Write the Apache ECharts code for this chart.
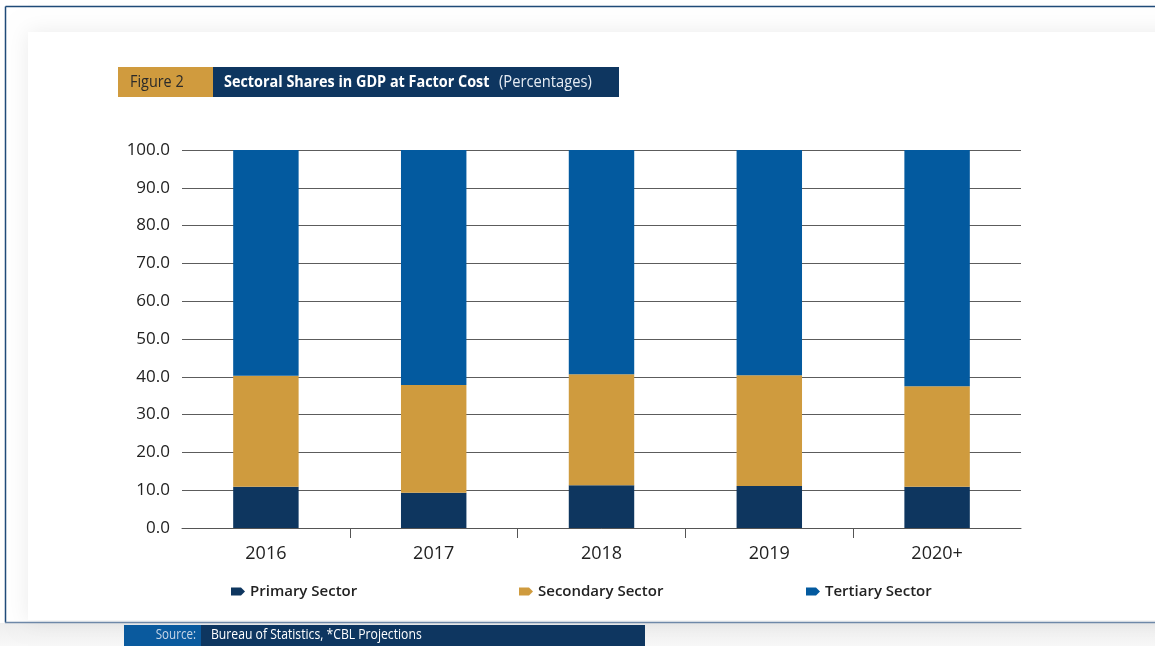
<!DOCTYPE html>
<html>
<head>
<meta charset="utf-8">
<script src="https://cdn.jsdelivr.net/npm/echarts@6/dist/echarts.min.js"></script>
<style>
  html, body { margin: 0; padding: 0; background: #ffffff; }
  #chart { width: 1155px; height: 646px; }
</style>
</head>
<body>
<div id="chart"></div>
<script>
// Sectoral shares in GDP at factor cost, percent of total
const categories = ['2016', '2017', '2018', '2019', '2020+'];
const primarySector = [10.9, 9.3, 11.3, 11.1, 10.9];
const secondarySector = [29.4, 28.5, 29.4, 29.3, 26.6];
const tertiarySector = [59.7, 62.2, 59.3, 59.6, 62.5];
const seriesNames = ['Primary Sector', 'Secondary Sector', 'Tertiary Sector'];
const yTicks = { min: 0, max: 100, step: 10 };

const colors = ['#0e365f', '#cf9b3e', '#035a9f'];
const body = '"Open Sans", "Noto Sans", sans-serif';
const pencil = 'path://M0,0 L10,0 L14,4 L10,8 L0,8 Z';

const chart = echarts.init(document.getElementById('chart'), null, { renderer: 'canvas' });

function legendFor(name, left) {
  return {
    left: left, top: 579,
    data: [name],
    icon: pencil,
    itemWidth: 14, itemHeight: 8,
    itemGap: 0,
    selectedMode: false,
    textStyle: { fontFamily: body, fontSize: 15, fontWeight: 600, color: '#222' }
  };
}

// condensed-looking heading text: regular face squeezed horizontally
function squeezed(x, y, text, font, fill, sx, align) {
  return {
    type: 'text', x: x, y: y, scaleX: sx, silent: true,
    style: { text: text, fill: fill, font: font, align: align || 'left', verticalAlign: 'middle' }
  };
}

const option = {
  backgroundColor: '#ffffff',
  animation: false,
  color: colors,
  grid: { left: 182, right: 134, top: 150, bottom: 118, containLabel: false },
  legend: [
    legendFor(seriesNames[0], 226),
    legendFor(seriesNames[1], 514),
    legendFor(seriesNames[2], 801)
  ],
  xAxis: [
    {
      type: 'category',
      data: categories,
      boundaryGap: true,
      axisLine: { show: true, lineStyle: { color: '#555', width: 1 } },
      axisTick: { show: false },
      axisLabel: { margin: 17, fontFamily: body, fontSize: 18, color: '#222' }
    },
    {
      // interior separators between the year groups
      type: 'value',
      position: 'bottom',
      min: 0,
      max: categories.length,
      interval: 1,
      axisLine: { show: false },
      axisLabel: { show: false },
      splitLine: { show: false },
      axisTick: {
        show: true,
        length: 10,
        customValues: categories.slice(1).map((_, i) => i + 1),
        lineStyle: { color: '#555', width: 1 }
      }
    }
  ],
  yAxis: {
    type: 'value',
    min: yTicks.min,
    max: yTicks.max,
    interval: yTicks.step,
    axisLine: { show: false },
    axisTick: { show: false },
    splitLine: { show: true, lineStyle: { color: '#5c5c5c', width: 1 } },
    axisLabel: {
      margin: 12,
      fontFamily: body, fontSize: 17, color: '#222',
      formatter: v => v.toFixed(1)
    }
  },
  series: [
    { name: seriesNames[0], type: 'bar', stack: 'gdp', barWidth: '39%', data: primarySector },
    { name: seriesNames[1], type: 'bar', stack: 'gdp', barWidth: '39%', data: secondarySector },
    { name: seriesNames[2], type: 'bar', stack: 'gdp', barWidth: '39%', data: tertiarySector }
  ],
  graphic: [
    // soft panel shadow
    { type: 'rect', z: -10, shape: { x: 28, y: 32, width: 1160, height: 588 },
      style: { fill: '#ffffff', shadowBlur: 20, shadowColor: 'rgba(0,0,0,0.08)' }, silent: true },
    // light band under the frame
    { type: 'rect', z: -11, shape: { x: 0, y: 623, width: 1155, height: 23 },
      style: { fill: new echarts.graphic.LinearGradient(0, 0, 0, 1, [
        { offset: 0, color: '#eeeeee' }, { offset: 1, color: '#f8f8f8' }]) }, silent: true },
    // frame lines
    { type: 'line', z: 5, shape: { x1: 5.5, y1: 6.5, x2: 1155, y2: 6.5 },
      style: { stroke: '#1f4a78', lineWidth: 1.5 }, silent: true },
    { type: 'line', z: 5, shape: { x1: 5.5, y1: 6.5, x2: 5.5, y2: 622.5 },
      style: { stroke: '#1f4a78', lineWidth: 1.5 }, silent: true },
    { type: 'line', z: 5, shape: { x1: 5, y1: 622.5, x2: 1155, y2: 622.5 },
      style: { stroke: '#6e88a8', lineWidth: 1.5 }, silent: true },
    // figure heading
    { type: 'rect', shape: { x: 118, y: 67, width: 95, height: 30 }, style: { fill: '#d09b3e' }, silent: true },
    { type: 'rect', shape: { x: 213, y: 67, width: 406, height: 30 }, style: { fill: '#0e3660' }, silent: true },
    squeezed(130, 82, 'Figure 2', '16px ' + body, '#2a2a2a', 0.9),
    squeezed(224, 82, 'Sectoral Shares in GDP at Factor Cost', 'bold 16px ' + body, '#ffffff', 0.9),
    squeezed(499, 82, '(Percentages)', '16px ' + body, '#e6ecf3', 0.92),
    // source line
    { type: 'rect', shape: { x: 124, y: 625, width: 77, height: 21 }, style: { fill: '#0a5a9e' }, silent: true },
    { type: 'rect', shape: { x: 201, y: 625, width: 444, height: 21 }, style: { fill: '#0e3660' }, silent: true },
    squeezed(196, 635, 'Source:', '14.5px ' + body, '#c9d7e8', 0.8, 'right'),
    squeezed(211, 635, 'Bureau of Statistics, *CBL Projections', '14.5px ' + body, '#ffffff', 0.84)
  ]
};

chart.setOption(option);
</script>
</body>
</html>
